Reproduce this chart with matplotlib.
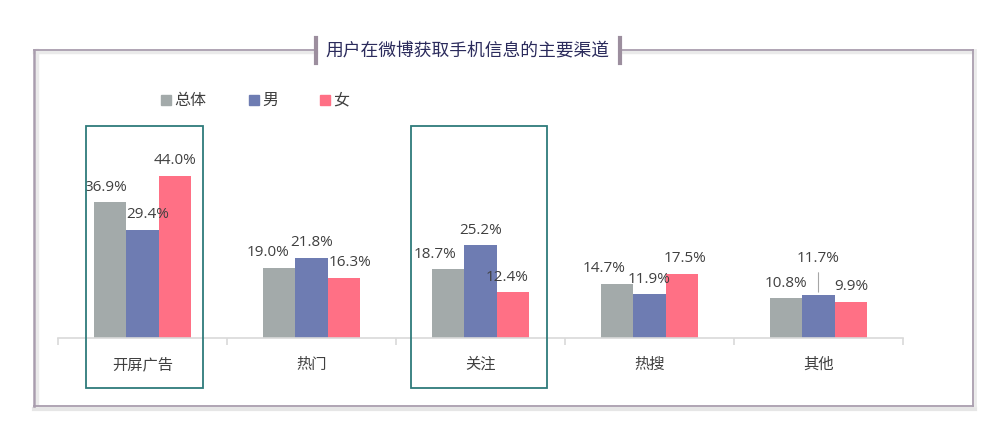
import numpy as np
import matplotlib.pyplot as plt
from matplotlib.lines import Line2D
from matplotlib.patches import Rectangle

plt.rcParams['font.family'] = ['Noto Sans CJK SC', 'DejaVu Sans']

categories = ["开屏广告", "热门", "关注", "热搜", "其他"]
series = ["总体", "男", "女"]
total = [36.9, 19.0, 18.7, 14.7, 10.8]
male = [29.4, 21.8, 25.2, 11.9, 11.7]
female = [44.0, 16.3, 12.4, 17.5, 9.9]
title = "用户在微博获取手机信息的主要渠道"

colors = ["#A3AAAA", "#6E7CB2", "#FF7085"]
TXT = "#404040"

W, H = 997, 440
fig = plt.figure(figsize=(W / 100, H / 100), dpi=100)

def fx(px):
    return px / W

def fy(py):
    return 1 - py / H

# axes: x from px 58..903, baseline at py 338, 3.68 px per %
ymax = 60
ax = fig.add_axes([fx(58), fy(338), fx(903) - fx(58), 3.68 * ymax / H])
ax.set_xlim(-0.5, 4.5)
ax.set_ylim(0, ymax)

x = np.arange(len(categories))
bw = 0.193
vals = [total, male, female]
# label offsets (points) to mimic original placement
dx = [[-3, 4, 0], [-8, 0, 4], [-9, 0, -4], [-9, 0, 2], [0, 0, 0]]
for j, (v, c) in enumerate(zip(vals, colors)):
    bars = ax.bar(x + (j - 1) * bw, v, bw, color=c, edgecolor="none", zorder=2)
    for i, b in enumerate(bars):
        off = 5.5 if not (i == 4 and j == 1) else 21
        ax.annotate(f"{v[i]:.1f}%", (b.get_x() + b.get_width() / 2, b.get_height()),
                    xytext=(dx[i][j], off), textcoords="offset points",
                    ha="center", va="bottom", fontsize=11, color=TXT,
                    family=["Open Sans", "DejaVu Sans"])
# leader line for 11.7%
ax.annotate("", (4, male[4]), xytext=(0, 18), textcoords="offset points",
            arrowprops=dict(arrowstyle="-", color="#A6A6A6", lw=0.8))

for s in ["top", "right", "left"]:
    ax.spines[s].set_visible(False)
ax.spines["bottom"].set_color("#D9D9D9")
ax.spines["bottom"].set_linewidth(1.2)
ax.set_yticks([])
ax.set_xticks(np.arange(-0.5, 5, 1))
ax.set_xticklabels([])
ax.tick_params(axis="x", length=5, color="#D9D9D9", width=1.2)
for i, c in enumerate(categories):
    ax.text(i, -7.2, c, ha="center", va="center", fontsize=11, color=TXT)

# highlight boxes
for cx, hw in [(0.01, 0.346), (1.99, 0.402)]:
    ax.add_patch(Rectangle((cx - hw, -13.6), 2 * hw, 71.2, fill=False,
                           edgecolor="#2E7B7B", lw=1.3, clip_on=False, zorder=3))

# legend
for k, (name, c) in enumerate(zip(series, colors)):
    sx = [166, 254, 325][k]
    fig.patches.append(Rectangle((fx(sx - 5), fy(105)), 10 / W, 10 / H, color=c,
                                 transform=fig.transFigure))
    fig.text(fx(sx + 8), fy(100), name, ha="left", va="center", fontsize=11.5, color=TXT)

# outer frame
fc = "#A99DAE"
def fline(xs, ys, **kw):
    fig.add_artist(Line2D([fx(p) for p in xs], [fy(p) for p in ys],
                          transform=fig.transFigure, **kw))

fline([34, 316], [52, 52], color="#EAEAEA", lw=2.5)
fline([620, 973], [52, 52], color="#EAEAEA", lw=2.5)
fline([34, 975], [408.5, 408.5], color="#E6E6E6", lw=3)
fline([36.5, 36.5], [50, 406], color="#EAEAEA", lw=2.5)
fline([975, 975], [50, 406], color="#EAEAEA", lw=2)
fline([34, 316], [50, 50], color=fc, lw=1.3)
fline([620, 973], [50, 50], color=fc, lw=1.3)
fline([34, 34], [50, 406], color=fc, lw=1.8)
fline([973, 973], [50, 406], color=fc, lw=1.3)
fline([34, 973], [406, 406], color=fc, lw=1.3)
fline([316, 316], [38, 63], color="#9C8E9E", lw=3)
fline([620, 620], [38, 63], color="#9C8E9E", lw=3)
fig.text(fx(467), fy(50), title, ha="center", va="center", fontsize=12.8,
         color="#2B2B5C")

fig.savefig("out.png", dpi=100)
